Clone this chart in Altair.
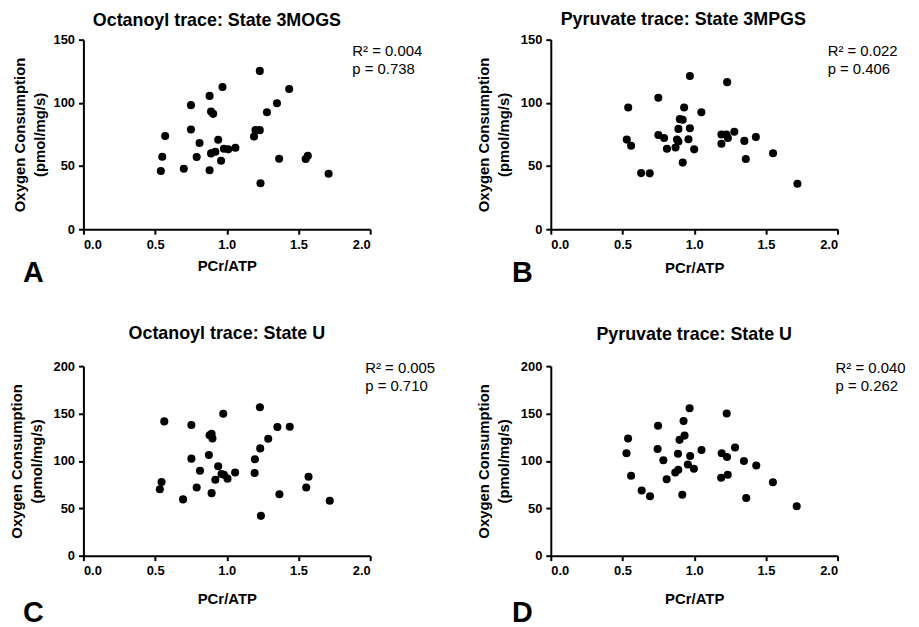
import altair as alt
import pandas as pd

# ---------------- data ----------------
a_x = [0.54, 0.55, 0.57, 0.70, 0.75, 0.75, 0.79, 0.81, 0.88, 0.88, 0.89, 0.905, 0.89, 0.92, 0.94, 0.96,
       0.97, 0.98, 1.01, 1.06, 1.19, 1.20, 1.23, 1.23, 1.235, 1.28, 1.35, 1.365, 1.435, 1.55, 1.565, 1.71]
a_y = [46.0, 57.4, 73.7, 47.9, 98.2, 78.9, 57.1, 68.2, 46.6, 105.5, 93.2, 91.3, 60.0, 61.3, 70.8, 54.2,
       112.6, 63.7, 63.2, 64.5, 73.4, 78.4, 78.4, 125.3, 36.3, 92.6, 99.7, 55.8, 111.0, 55.5, 58.2, 43.9]

b_x = [0.53, 0.54, 0.56, 0.63, 0.69, 0.75, 0.75, 0.79, 0.81, 0.87, 0.88, 0.89, 0.89, 0.90, 0.92, 0.92, 0.93,
       0.96, 0.97, 0.97, 1.00, 1.05, 1.19, 1.19, 1.225, 1.235, 1.23, 1.28, 1.35, 1.36, 1.43, 1.55, 1.72]
b_y = [70.9, 96.3, 66.0, 44.4, 44.2, 74.5, 104.0, 72.2, 63.7, 64.7, 70.9, 69.4, 79.4, 87.1, 86.6, 52.7, 96.3,
       71.2, 79.9, 121.2, 63.2, 92.5, 67.6, 75.0, 75.0, 72.2, 116.4, 77.1, 69.9, 55.5, 72.9, 60.1, 36.0]

c_x = [0.533, 0.545, 0.564, 0.695, 0.753, 0.753, 0.79, 0.813, 0.875, 0.88, 0.894, 0.90, 0.894, 0.92, 0.94, 0.963,
       0.975, 0.98, 1.005, 1.058, 1.194, 1.196, 1.233, 1.231, 1.238, 1.289, 1.353, 1.367, 1.439, 1.554, 1.57, 1.718]
c_y = [70.1, 77.8, 141.7, 59.4, 137.8, 102.4, 71.9, 89.6, 106.3, 127.1, 128.5, 123.6, 66.0, 80.2, 94.4, 86.1,
       149.8, 85.4, 81.3, 87.8, 87.2, 101.7, 113.2, 156.6, 42.0, 123.3, 135.8, 64.9, 136.1, 71.9, 83.3, 58.0]

d_x = [0.528, 0.539, 0.56, 0.634, 0.692, 0.745, 0.748, 0.785, 0.808, 0.868, 0.889, 0.887, 0.898, 0.926, 0.933, 0.917,
       0.956, 0.972, 0.968, 0.998, 1.051, 1.188, 1.192, 1.229, 1.234, 1.227, 1.285, 1.347, 1.363, 1.433, 1.549, 1.715]
d_y = [108.0, 123.6, 84.4, 68.8, 62.8, 112.5, 137.2, 100.7, 80.6, 87.8, 90.6, 107.6, 122.2, 142.0, 126.7, 64.2,
       96.2, 105.2, 155.6, 91.7, 111.5, 82.3, 108.0, 104.2, 85.4, 150.0, 114.2, 100.0, 60.8, 95.1, 77.4, 52.1]

titles = ["Octanoyl trace: State 3MOGS", "Pyruvate trace: State 3MPGS",
          "Octanoyl trace: State U", "Pyruvate trace: State U"]
letters = ["A", "B", "C", "D"]
r2_vals = ["0.004", "0.022", "0.005", "0.040"]
p_vals = ["0.738", "0.406", "0.710", "0.262"]
y_max = [150, 150, 200, 200]
x_ticks = [0, 0.5, 1.0, 1.5, 2.0]
x_title = "PCr/ATP"
y_title = ["Oxygen Consumption", "(pmol/mg/s)"]

# ---------------- layout / style ----------------
W, H = 289, 191
FONT = "Liberation Sans"
layout = [
    dict(t=(-10, -13.5), xt=42, yt=-59, let=(-61, 53), st=(271, 16.5)),
    dict(t=(-11, -14.5), xt=44, yt=-63, let=(-39, 53), st=(279, 16.5)),
    dict(t=(0, -27.5), xt=48.5, yt=-62, let=(-61, 67), st=(284, 6.5)),
    dict(t=(0, -26.7), xt=48.5, yt=-63, let=(-39, 67), st=(287, 6.5)),
]


def panel(i, xs, ys):
    lay = layout[i]
    df = pd.DataFrame({"x": xs, "y": ys})
    pts = alt.Chart(df).mark_circle(size=66, color="black", opacity=1).encode(
        x=alt.X("x:Q", scale=alt.Scale(domain=[0, 2], nice=False),
                axis=alt.Axis(values=x_ticks, format=".1f", title=x_title,
                              titleY=lay["xt"], titleBaseline="alphabetic")),
        y=alt.Y("y:Q", scale=alt.Scale(domain=[0, y_max[i]], nice=False),
                axis=alt.Axis(values=list(range(0, y_max[i] + 1, 50)), format="d",
                              title=y_title, titleX=lay["yt"], titleY=H / 2,
                              titleAngle=270, titleBaseline="alphabetic",
                              titleAlign="center", titleLineHeight=20)),
    )
    one = pd.DataFrame({"k": [0]})
    lines = ["R\u00b2 = " + r2_vals[i], "p = " + p_vals[i]]
    layers = [pts]
    for j, line in enumerate(lines):
        layers.append(alt.Chart(one).mark_text(
            text=line, align="left", baseline="alphabetic", font=FONT, fontSize=15,
            color="black",
        ).encode(x=alt.value(lay["st"][0]), y=alt.value(lay["st"][1] + 18.5 * j)))
    layers.append(alt.Chart(one).mark_text(
        text=letters[i], align="left", baseline="alphabetic", font=FONT,
        fontSize=29, fontWeight="bold", color="black",
    ).encode(x=alt.value(lay["let"][0]), y=alt.value(H + lay["let"][1])))
    layers.append(alt.Chart(one).mark_text(
        text=titles[i], align="center", baseline="alphabetic", font=FONT,
        fontSize=18, fontWeight="bold", color="black",
    ).encode(x=alt.value(W / 2 + lay["t"][0]), y=alt.value(lay["t"][1])))
    return alt.layer(*layers).properties(width=W, height=H)


panels = [panel(0, a_x, a_y), panel(1, b_x, b_y), panel(2, c_x, c_y), panel(3, d_x, d_y)]

chart = alt.concat(*panels, columns=2, spacing={"row": 138, "column": 182}, bounds="flush").properties(
    padding={"left": 2, "top": 0.5, "right": 5, "bottom": 2}
).configure_view(strokeWidth=0).configure_axis(
    grid=False, domainColor="black", domainWidth=2, tickColor="black", tickWidth=2,
    tickSize=5, labelFont=FONT, labelFontSize=13, labelFontWeight="bold", labelColor="black",
    labelPadding=4, titleFont=FONT, titleFontSize=15, titleFontWeight="bold", titleColor="black",
)

chart.save("out.html", embed_options={"renderer": "svg", "actions": False})
